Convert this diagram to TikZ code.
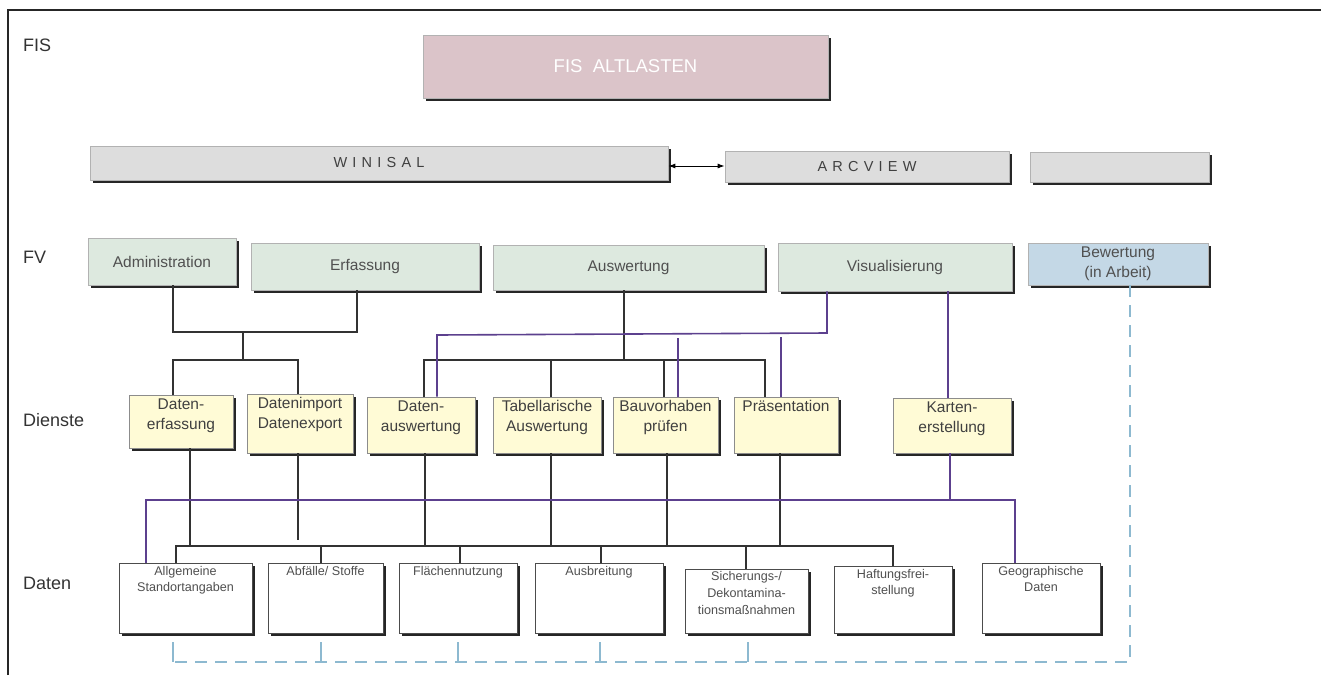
\documentclass[tikz,border=0pt]{standalone}
\usepackage{fontspec}
\setmainfont{Liberation Sans}
\usetikzlibrary{shadows,arrows.meta}
\definecolor{fispink}{RGB}{219,196,201}
\definecolor{bargray}{RGB}{221,221,221}
\definecolor{fvgreen}{RGB}{221,233,223}
\definecolor{fvblue}{RGB}{196,216,230}
\definecolor{dyellow}{RGB}{255,251,214}
\definecolor{purp}{RGB}{92,64,142}
\definecolor{dblue}{RGB}{141,185,208}
\definecolor{txtgray}{RGB}{80,80,80}
\definecolor{linegray}{RGB}{50,50,50}
\begin{document}
\begin{tikzpicture}[x=1pt,y=-1pt,
  shad/.style={general shadow={fill=black!85, shadow xshift=3.4pt, shadow yshift=-3.4pt}},
  boxbase/.style={rectangle, inner sep=0pt, shad, draw=black!30, line width=0.6pt},
  fisbox/.style={boxbase, fill=fispink, text=white, font=\fontsize{18.5}{22}\selectfont},
  barbox/.style={boxbase, fill=bargray, text=black!75, font=\fontsize{14.5}{18}\selectfont\addfontfeature{LetterSpace=36}},
  fvbox/.style={boxbase, fill=fvgreen, text=txtgray, align=center, font=\fontsize{15.5}{20}\selectfont},
  bewbox/.style={boxbase, fill=fvblue, text=txtgray, align=center, font=\fontsize{15.5}{20}\selectfont},
  dbox/.style={boxbase, fill=dyellow, draw=black!45},
  dtext/.style={anchor=north, inner sep=3.5pt, align=center, text=black!75, font=\fontsize{15.5}{20}\selectfont},
  tbox/.style={boxbase, fill=white, draw=black!70, line width=0.8pt},
  ttext/.style={anchor=north, inner sep=4pt, align=center, text=txtgray, font=\fontsize{12.6}{16}\selectfont},
  rowlabel/.style={anchor=west, inner sep=0pt, text=black!80, font=\fontsize{18}{22}\selectfont},
  conn/.style={draw=linegray, line width=1.6pt},
  pconn/.style={draw=purp, line width=1.6pt},
  bconn/.style={draw=dblue, line width=1.4pt},
  frame/.style={draw=black!85, line width=1.3pt}
]
\useasboundingbox (0,0) rectangle (1321,675);
\draw[frame] (8,675) -- (8,10) -- (1321,10);

% row labels
\node[rowlabel] (lfis) at (23,45) {FIS};
\node[rowlabel] (lfv) at (23,257) {FV};
\node[rowlabel] (ldie) at (23,420) {Dienste};
\node[rowlabel] (ldat) at (23,583) {Daten};

% top
\node[fisbox, minimum width=405pt, minimum height=63pt] (fis) at (625.5,66.5) {FIS\ \ ALTLASTEN};
\node[barbox, minimum width=578pt, minimum height=34pt] (win) at (379,163) {WINISAL};
\node[barbox, minimum width=284pt, minimum height=31pt] (arc) at (867,166.5) {ARCVIEW};
\node[barbox, minimum width=179pt, minimum height=30pt] (emp) at (1119.5,167) {};
\draw[line width=1pt, {Latex[length=7pt,width=5pt]}-{Latex[length=7pt,width=5pt]}] (win.east |- 0,166) -- (arc.west |- 0,166);

% FV
\node[fvbox, minimum width=148pt, minimum height=47pt] (adm) at (162,261.5) {Administration};
\node[fvbox, minimum width=228pt, minimum height=47pt] (erf) at (365,266.5) {Erfassung};
\node[fvbox, minimum width=271pt, minimum height=45pt] (ausw) at (628.5,267.5) {Auswertung};
\node[fvbox, minimum width=234pt, minimum height=48pt] (vis) at (895,267) {Visualisierung};
\node[bewbox, minimum width=180pt, minimum height=42pt] (bew) at (1118,264) {Bewertung\\(in Arbeit)};

% Dienste
\node[dbox, minimum width=104pt, minimum height=53pt] (d1) at (181,421.5) {};
\node[dbox, minimum width=106pt, minimum height=59pt] (d2) at (300,423.5) {};
\node[dbox, minimum width=108pt, minimum height=56pt] (d3) at (421,425) {};
\node[dbox, minimum width=108pt, minimum height=56pt] (d4) at (547,425) {};
\node[dbox, minimum width=105pt, minimum height=56pt] (d5) at (665.5,425) {};
\node[dbox, minimum width=104pt, minimum height=56pt] (d6) at (786,425) {};
\node[dbox, minimum width=118pt, minimum height=55pt] (d7) at (952,425.5) {};
\node[dtext] (d1t) at (d1.north) {Daten-\\erfassung};
\node[dtext] (d2t) at (d2.north) {Datenimport\\Datenexport};
\node[dtext] (d3t) at (d3.north) {Daten-\\auswertung};
\node[dtext] (d4t) at (d4.north) {Tabellarische\\Auswertung};
\node[dtext] (d5t) at (d5.north) {Bauvorhaben\\prüfen};
\node[dtext] (d6t) at (d6.north) {Präsentation};
\node[dtext] (d7t) at (d7.north) {Karten-\\erstellung};

% Daten
\node[tbox, minimum width=133pt, minimum height=70pt] (t1) at (185.5,598) {};
\node[tbox, minimum width=115pt, minimum height=70pt] (t2) at (325.5,598) {};
\node[tbox, minimum width=118pt, minimum height=70pt] (t3) at (458,598) {};
\node[tbox, minimum width=128pt, minimum height=70pt] (t4) at (599,598) {};
\node[tbox, minimum width=123pt, minimum height=64pt] (t5) at (746.5,601) {};
\node[tbox, minimum width=118pt, minimum height=67pt] (t6) at (893,599.5) {};
\node[tbox, minimum width=118pt, minimum height=70pt] (t7) at (1041,598) {};
\node[ttext] (t1t) at (t1.north) {Allgemeine\\Standortangaben};
\node[ttext] (t2t) at (t2.north) {Abfälle/ Stoffe};
\node[ttext] (t3t) at (t3.north) {Flächennutzung};
\node[ttext] (t4t) at (t4.north) {Ausbreitung};
\node[ttext, inner sep=3pt, font=\fontsize{12.6}{17}\selectfont] (t5t) at (t5.north) {Sicherungs-/\\Dekontamina-\\tionsmaßnahmen};
\node[ttext] (t6t) at (t6.north) {Haftungsfrei-\\stellung};
\node[ttext] (t7t) at (t7.north) {Geographische\\Daten};

% junction coordinates
\coordinate (jA) at (173,332);
\coordinate (jE) at (357,332);
\coordinate (jM) at (243,332);
\coordinate (jM2) at (243,360);
\coordinate (jL) at (173,360);
\coordinate (jR) at (298,360);
\coordinate (aw) at (624,360);
\coordinate (h1) at (424,360);
\coordinate (h2) at (551,360);
\coordinate (h3) at (664,360);
\coordinate (h4) at (765,360);

% FV -> Dienste (black)
\draw[conn] (adm.south -| jA) -- (jA) -- (jE) -- (erf.south -| jE);
\draw[conn] (jM) -- (jM2);
\draw[conn] (d1.north -| jL) -- (jL) -- (jR) -- (d2.north -| jR);
\draw[conn] (ausw.south -| aw) -- (aw);
\draw[conn] (d3.north -| h1) -- (h1) -- (h4) -- (d6.north -| h4);
\draw[conn] (h2) -- (d4.north -| h2);
\draw[conn] (h3) -- (d5.north -| h3);

% Visualisierung (purple)
\coordinate (p1) at (827,333);
\coordinate (p2) at (437,335);
\coordinate (p3) at (678,338);
\coordinate (p4) at (781,337);
\coordinate (pK) at (948,300);
\draw[pconn] (vis.south -| p1) -- (p1) -- (p2) -- (d3.north -| p2);
\draw[pconn] (p3) -- (d5.north -| p3);
\draw[pconn] (p4) -- (d6.north -| p4);
\draw[pconn] (vis.south -| pK) -- (d7.north -| pK);

% Dienste -> Daten (black)
\coordinate (b1) at (190,546);
\coordinate (b2) at (298,540);
\coordinate (b3) at (425,546);
\coordinate (b4) at (551,546);
\coordinate (b5) at (667,546);
\coordinate (b6) at (780,546);
\coordinate (bl) at (176,546);
\coordinate (br) at (893,546);
\coordinate (s2) at (321,546);
\coordinate (s3) at (460,546);
\coordinate (s4) at (601,546);
\coordinate (s5) at (746,546);
\draw[conn] (d1.south -| b1) -- (b1);
\draw[conn] (d2.south -| b2) -- (b2);
\draw[conn] (d3.south -| b3) -- (b3);
\draw[conn] (d4.south -| b4) -- (b4);
\draw[conn] (d5.south -| b5) -- (b5);
\draw[conn] (d6.south -| b6) -- (b6);
\draw[conn] (t1.north -| bl) -- (bl) -- (br) -- (t6.north -| br);
\draw[conn] (s2) -- (t2.north -| s2);
\draw[conn] (s3) -- (t3.north -| s3);
\draw[conn] (s4) -- (t4.north -| s4);
\draw[conn] (s5) -- (t5.north -| s5);

% Karten -> Daten (purple)
\coordinate (q1) at (146,500);
\coordinate (q2) at (1015,500);
\coordinate (qK) at (950,500);
\draw[pconn] (t1.north -| q1) -- (q1) -- (q2) -- (t7.north -| q2);
\draw[pconn] (d7.south -| qK) -- (qK);

% Bewertung dashed
\coordinate (r1) at (1130,662);
\coordinate (r2) at (173,662);
\draw[bconn, dash pattern=on 12pt off 8pt] (bew.south -| r1) -- (r1) -- (r2);
\foreach \xx/\nm in {173/u1,321/u2,458/u3,600/u4,748/u5}{
  \coordinate (\nm) at (\xx,642);
  \draw[bconn] (\nm) -- (\xx,662);
}
\end{tikzpicture}
\end{document}
